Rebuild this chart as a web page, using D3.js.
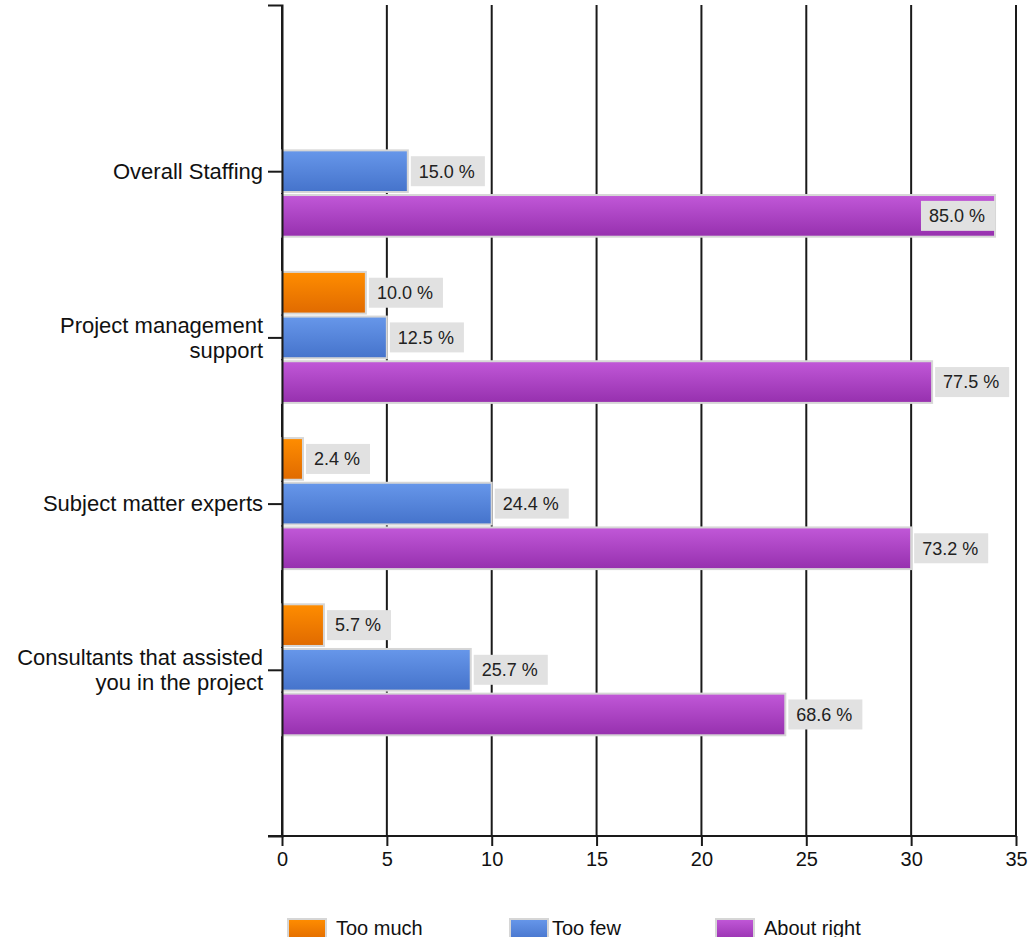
<!DOCTYPE html>
<html>
<head>
<meta charset="utf-8">
<script src="https://cdn.jsdelivr.net/npm/d3@7"></script>
<style>
  body { margin: 0; background: #fff; }
  svg { display: block; font-family: "Liberation Sans", Arial, sans-serif; }
</style>
</head>
<body>
<div id="chart"></div>
<script>
// data (bar length = count, label = percent)
const categories = ["Overall Staffing", "Project management\nsupport", "Subject matter experts", "Consultants that assisted\nyou in the project"]
const seriesNames = ["Too much", "Too few", "About right"]
const tooMuch = [0, 4, 1, 2]
const tooFew = [6, 5, 10, 9]
const aboutRight = [34, 31, 30, 24]
const tooMuchPct = [0, 10.0, 2.4, 5.7]
const tooFewPct = [15.0, 12.5, 24.4, 25.7]
const aboutRightPct = [85.0, 77.5, 73.2, 68.6]
const xTicks = [0, 5, 10, 15, 20, 25, 30, 35]

const counts = [tooMuch, tooFew, aboutRight]
const pcts = [tooMuchPct, tooFewPct, aboutRightPct]
const colors = [["#ff8d00", "#e06a00"], ["#6797ea", "#4573cb"], ["#c158d8", "#9630ae"]]

const W = 1029, H = 937
const svg = d3.select("#chart").append("svg").attr("width", W).attr("height", H)

const defs = svg.append("defs")
colors.forEach(function(c, i) {
  const g = defs.append("linearGradient").attr("id", "grad" + i)
    .attr("x1", 0).attr("y1", 0).attr("x2", 0).attr("y2", 1)
  g.append("stop").attr("offset", "0%").attr("stop-color", c[0])
  g.append("stop").attr("offset", "100%").attr("stop-color", c[1])
})

// scales
const x = d3.scaleLinear().domain([0, 35]).range([282, 1016])
const y = d3.scalePoint().domain(categories).range([5, 836]).padding(1)
const inner = d3.scaleBand().domain(seriesNames).range([-67, 67])

// gridlines
svg.append("g").selectAll("line").data(xTicks).join("line")
  .attr("x1", d => x(d)).attr("x2", d => x(d))
  .attr("y1", 5).attr("y2", 836)
  .attr("stroke", "#1a1a1a").attr("stroke-width", 2)

// bars
const rows = []
categories.forEach(function(cat, ci) {
  seriesNames.forEach(function(s, si) {
    rows.push({cat: cat, s: s, si: si, v: counts[si][ci], p: pcts[si][ci]})
  })
})

const barG = svg.append("g")
barG.selectAll("rect").data(rows).join("rect")
  .attr("x", x(0))
  .attr("y", d => y(d.cat) + inner(d.s) + 1.5)
  .attr("width", d => x(d.v) - x(0))
  .attr("height", inner.bandwidth() - 3)
  .attr("fill", d => "url(#grad" + d.si + ")")
  .attr("stroke", "#d6d6d6").attr("stroke-width", 2)

// value labels
const labG = svg.append("g")
rows.filter(d => d.v > 0).forEach(function(d) {
  const cy = y(d.cat) + inner(d.s) + inner.bandwidth() / 2
  const g = labG.append("g")
  const t = g.append("text")
    .attr("y", cy).attr("dy", "0.35em")
    .attr("font-size", 18).attr("fill", "#222")
    .text(d.p.toFixed(1) + " %")
  const tw = t.node().getComputedTextLength()
  const bw = tw + 18
  let bx = x(d.v) + 3
  if (bx + bw > x(35)) bx = x(d.v) - bw
  g.insert("rect", "text")
    .attr("x", bx).attr("y", cy - 15)
    .attr("width", bw).attr("height", 30)
    .attr("fill", "#e1e1e1")
  t.attr("x", bx + 8)
})

// y axis
const yAxis = svg.append("g").attr("transform", "translate(" + x(0) + ",0)")
  .call(d3.axisLeft(y).tickSize(14).tickSizeOuter(14).tickFormat(""))
yAxis.selectAll("path, line").attr("stroke", "#1a1a1a").attr("stroke-width", 2)

// category labels (multi-line)
categories.forEach(function(cat) {
  const lines = cat.split("\n")
  const t = svg.append("text")
    .attr("text-anchor", "end").attr("font-size", 22).attr("fill", "#111")
  lines.forEach(function(l, i) {
    t.append("tspan").attr("x", 263)
      .attr("y", y(cat) + (i - (lines.length - 1) / 2) * 25)
      .attr("dy", "0.35em").text(l)
  })
})

// x axis
const xAxis = svg.append("g").attr("transform", "translate(0,836)")
  .call(d3.axisBottom(x).tickValues(xTicks).tickSize(10).tickSizeOuter(0).tickPadding(6))
xAxis.select(".domain").attr("d", "M268,0H" + x(35))
xAxis.selectAll("path, line").attr("stroke", "#1a1a1a").attr("stroke-width", 2)
xAxis.selectAll("text").attr("font-size", 20).attr("fill", "#111")

// legend
const legendX = [288, 510, 716]
const legend = svg.append("g")
seriesNames.forEach(function(s, i) {
  legend.append("rect")
    .attr("x", legendX[i]).attr("y", 919).attr("width", 38).attr("height", 22)
    .attr("fill", "url(#grad" + i + ")")
    .attr("stroke", "#d6d6d6").attr("stroke-width", 2)
  legend.append("text")
    .attr("x", legendX[i] + (i === 1 ? 42 : 48)).attr("y", 935)
    .attr("font-size", 20).attr("fill", "#111")
    .text(s)
})
</script>
</body>
</html>
